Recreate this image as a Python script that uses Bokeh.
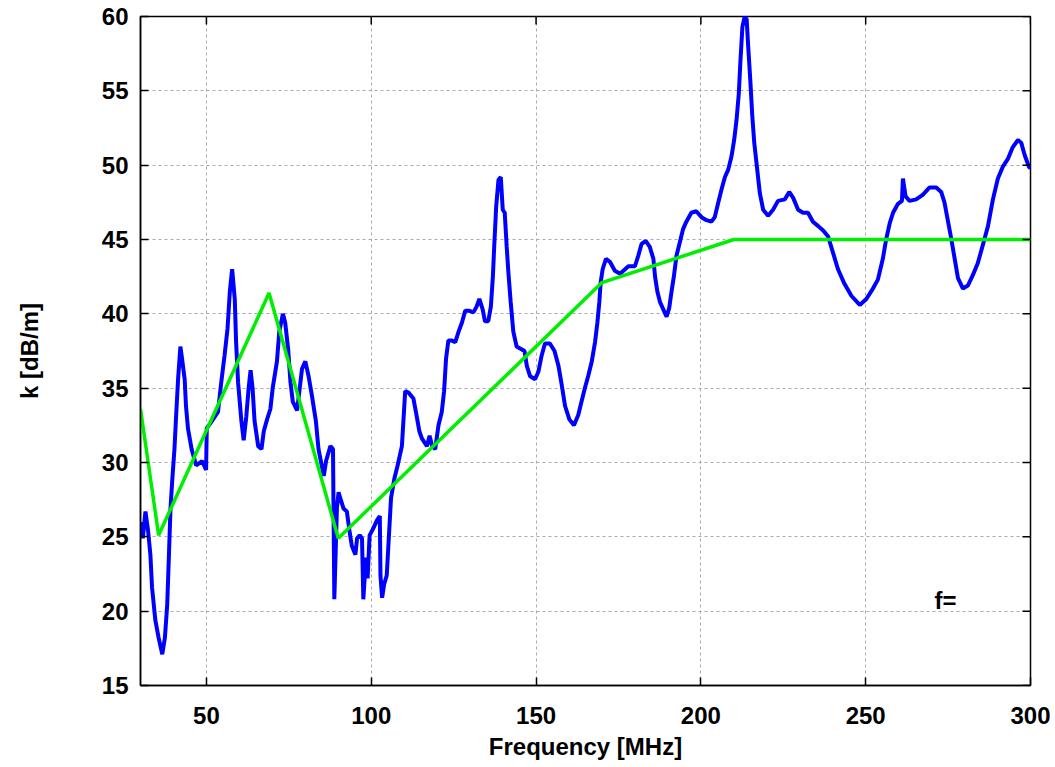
import math
from bokeh.plotting import figure
from bokeh.models import FixedTicker, Range1d
from bokeh.core.properties import value
from bokeh.embed import file_html
from bokeh.resources import INLINE

# ---- data ----
freq_mhz = [30, 30.7, 31.5, 32.3, 33.0, 33.5, 34.5, 35.5, 36.6, 37.4, 38.1, 38.6, 39.1, 39.6,
            40.3, 40.8, 41.4, 42.1, 42.6, 43.4, 43.8, 44.4, 45.5, 46.9, 48.7, 49.9, 50.1, 51.7,
            53.5, 54.5, 55.5, 56.4, 57.1, 57.8, 58.6, 59.0, 59.6, 60.6, 61.3, 62.1, 62.8, 63.4,
            64.0, 64.6, 65.7, 66.7, 67.4, 68.4, 69.4, 70.1, 71.4, 72.1, 73.2, 73.9, 74.8, 75.5,
            76.2, 77.5, 78.3, 79.0, 80.0, 81.0, 82.0, 83.2, 84.0, 85.6, 86.3, 87.6, 88.4, 88.8,
            89.6, 90.1, 90.6, 91.6, 92.6, 93.4, 94.1, 95.2, 95.7, 96.5, 97.2, 97.6, 98.4, 98.9,
            99.5, 100.7, 101.7, 102.6, 102.8, 103.3, 103.9, 104.7, 105.2, 106.0, 107.0, 108.0,
            109.3, 110.3, 111.3, 112.8, 113.8, 114.6, 115.4, 116.9, 117.7, 118.5, 119.4, 120.4,
            121.4, 122.1, 122.7, 123.4, 124.5, 125.5, 126.5, 127.5, 128.5, 129.8, 131.0, 132.0,
            132.8, 133.8, 134.5, 135.5, 136.3, 136.9, 137.3, 137.9, 138.6, 139.3, 139.9, 140.5,
            141.1, 141.6, 142.3, 143.1, 144.1, 145.7, 146.5, 147.2, 148.2, 149.7, 150.7, 151.7,
            152.7, 154.2, 155.6, 156.8, 157.8, 158.8, 160.1, 161.5, 162.8, 163.8, 164.8, 165.8,
            166.9, 167.9, 168.6, 169.2, 169.6, 170.2, 171.2, 172.4, 173.9, 175.5, 177.0, 178.0,
            180.0, 181.0, 182.0, 183.3, 184.5, 185.6, 186.1, 186.8, 187.6, 188.6, 189.6, 190.4,
            191.1, 191.8, 192.6, 193.6, 194.6, 195.6, 197.1, 198.6, 200.2, 201.7, 203.2, 204.2,
            205.3, 206.3, 207.3, 208.3, 209.3, 210.1, 210.8, 211.5, 212.0, 212.6, 213.3, 213.9,
            214.3, 215.0, 215.6, 216.2, 216.9, 217.9, 218.9, 220.4, 221.9, 223.4, 225.5, 226.8,
            228.0, 229.5, 231.0, 232.5, 234.0, 235.6, 237.1, 238.6, 240.1, 241.6, 243.6, 245.7,
            248.2, 250.2, 252.2, 253.7, 255.2, 256.2, 257.3, 258.3, 259.8, 261.0, 261.3, 262.1,
            263.3, 265.3, 267.3, 269.4, 271.4, 272.9, 273.9, 274.9, 276.0, 277.0, 278.0, 279.5,
            281.0, 282.5, 284.0, 285.5, 287.1, 288.6, 290.1, 291.6, 293.1, 294.6, 296.2, 297.2,
            298.2, 299.5, 300.0]

k_db = [26.0, 24.9, 26.7, 25.4, 23.8, 21.6, 19.4, 18.2, 17.1, 18.2, 20.4, 23.6, 26.9, 28.7,
        30.9, 33.1, 35.6, 37.8, 37.0, 35.6, 33.8, 32.3, 30.9, 29.8, 30.1, 29.5, 32.3, 32.8,
        33.4, 35.4, 37.2, 39.0, 41.5, 43.0, 41.0, 38.1, 35.4, 32.8, 31.5, 33.1, 35.0, 36.2,
        35.0, 32.8, 31.1, 30.9, 32.1, 32.9, 33.6, 35.0, 36.8, 38.8, 40.0, 39.4, 37.6, 35.4,
        34.1, 33.5, 35.0, 36.3, 36.8, 35.8, 34.5, 32.8, 30.9, 29.1, 30.1, 31.1, 30.9, 20.8,
        27.0, 28.0, 27.6, 26.9, 26.7, 25.4, 24.4, 23.8, 24.9, 25.1, 24.9, 20.8, 23.6, 22.2,
        25.1, 25.6, 26.1, 26.4, 22.4, 20.9, 21.8, 22.4, 24.4, 27.6, 28.9, 29.8,
        31.1, 34.8, 34.7, 34.3, 33.1, 32.1, 31.6, 31.1, 31.8, 31.1, 30.9, 32.5,
        33.4, 34.8, 37.0, 38.2, 38.2, 38.1, 38.8, 39.4, 40.2, 40.2, 40.1, 40.5,
        41.0, 40.3, 39.5, 39.5, 40.5, 42.5, 44.5, 47.2, 49.0, 49.2, 47.0, 46.8,
        44.5, 42.8, 40.8, 38.8, 37.8, 37.6, 37.5, 36.5, 35.8, 35.6, 36.1, 37.2,
        38.0, 38.0, 37.5, 36.5, 35.2, 33.8, 32.9, 32.5, 33.2, 34.1, 35.0, 35.8,
        36.8, 38.1, 39.4, 40.8, 42.1, 43.0, 43.7, 43.5, 42.9, 42.7, 43.0, 43.2,
        43.2, 43.9, 44.7, 44.9, 44.5, 43.7, 42.5, 41.5, 40.8, 40.3, 39.8, 40.4,
        41.5, 42.5, 43.9, 44.8, 45.7, 46.2, 46.8, 46.9, 46.5, 46.3, 46.2, 46.5,
        47.5, 48.4, 49.2, 49.7, 50.6, 51.7, 53.0, 54.8, 57.0, 59.3, 60.0, 59.8,
        58.2, 55.7, 53.3, 51.5, 50.1, 48.1, 47.0, 46.6, 47.0, 47.6, 47.7, 48.2,
        47.8, 47.0, 46.8, 46.8, 46.2, 45.9, 45.6, 45.2, 44.1, 43.0, 42.0, 41.2,
        40.6, 41.0, 41.7, 42.3, 43.7, 45.0, 46.1, 46.8, 47.4, 47.6, 49.1, 47.9,
        47.6, 47.7, 48.0, 48.5, 48.5, 48.2, 47.5, 46.3, 45.0, 43.7, 42.4, 41.7,
        41.9, 42.6, 43.4, 44.6, 45.9, 47.7, 49.1, 49.9, 50.4, 51.2, 51.7, 51.5,
        50.7, 49.9, 49.8]

limit_freq = [30, 35.5, 69, 90, 170, 210, 300]
limit_k = [33.6, 25.1, 41.4, 24.9, 42.1, 45.0, 45.0]

x_ticks = [50, 100, 150, 200, 250, 300]
y_ticks = [15, 20, 25, 30, 35, 40, 45, 50, 55, 60]

note_x = [274.2]
note_y = [20.7]
note_text = ["f="]

X_MIN, X_MAX = 30, 300
Y_MIN, Y_MAX = 15, 60

FONT = "Liberation Sans"

p = figure(width=1050, height=762, x_range=Range1d(X_MIN, X_MAX), y_range=Range1d(Y_MIN, Y_MAX),
           output_backend="svg", toolbar_location=None,
           min_border_left=140, min_border_right=20, min_border_top=16, min_border_bottom=74)

p.line(freq_mhz, k_db, line_color="#0000ff", line_width=4)
p.line(limit_freq, limit_k, line_color="#00ee00", line_width=3.5)
p.text(x=note_x, y=note_y, text=note_text, text_font=value(FONT), text_font_style="bold",
       text_font_size="24px", text_align="center", text_baseline="middle", text_color="black")

# inward tick marks on the top and right edges of the frame
p.ray(x=x_ticks, y=[Y_MAX] * len(x_ticks), length=8, length_units="screen",
      angle=-math.pi / 2, line_color="black", line_width=1.5)
p.ray(x=[X_MAX] * len(y_ticks), y=y_ticks, length=8, length_units="screen",
      angle=math.pi, line_color="black", line_width=1.5)

p.xaxis.ticker = FixedTicker(ticks=x_ticks)
p.yaxis.ticker = FixedTicker(ticks=y_ticks)

for ax in (p.xaxis[0], p.yaxis[0]):
    ax.major_tick_in = 8
    ax.major_tick_out = 0
    ax.minor_tick_line_color = None
    ax.major_tick_line_color = "black"
    ax.major_tick_line_width = 1.5
    ax.axis_line_color = "black"
    ax.axis_line_width = 1.5
    ax.major_label_text_font = FONT
    ax.major_label_text_font_style = "bold"
    ax.major_label_text_font_size = "24px"
    ax.major_label_text_color = "black"
    ax.axis_label_text_font = FONT
    ax.axis_label_text_font_style = "bold"
    ax.axis_label_text_font_size = "24px"
    ax.axis_label_text_color = "black"

p.xaxis.axis_label = "Frequency [MHz]"
p.yaxis.axis_label = "k [dB/m]"
p.xaxis.major_label_standoff = 21
p.xaxis.axis_label_standoff = 6
p.yaxis.major_label_standoff = 12
p.yaxis.axis_label_standoff = 56

p.xgrid.ticker = FixedTicker(ticks=x_ticks)
p.ygrid.ticker = FixedTicker(ticks=y_ticks)
for g in (p.xgrid[0], p.ygrid[0]):
    g.grid_line_color = "#aaaaaa"
    g.grid_line_dash = "3 3"
    g.grid_line_width = 1

p.outline_line_color = "black"
p.outline_line_width = 1.5
p.background_fill_color = "white"
p.border_fill_color = "white"

open("out.html", "w").write(file_html(p, INLINE))
